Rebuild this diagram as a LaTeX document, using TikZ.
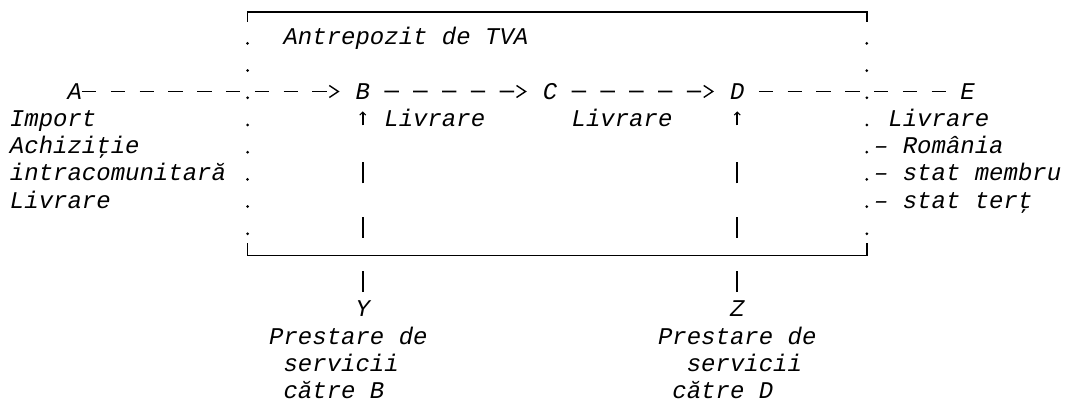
\documentclass[tikz,border=0pt]{standalone}
\usepackage{fontspec}
\usepackage{tikz}
\usetikzlibrary{arrows.meta}
\setmonofont{Liberation Mono}
\newcommand{\schemaFont}[0]{\ttfamily\itshape\fontsize{24}{27.2}\selectfont}

\begin{document}
\begin{tikzpicture}[x=14.4pt, y=-27.2pt, font=\schemaFont]
  \tikzset{every node/.style={inner sep=0pt, outer sep=0pt, anchor=base west},
    flow/.style={line width=1.6pt, dash pattern=on 14.4pt off 14.4pt},
    flowtip/.style={-{Straight Barb[length=9pt,width=12pt,line width=1.4pt]}, shorten >=16pt},
    service/.style={line width=1.6pt, shorten <=9pt, shorten >=12pt,
      dash pattern=on 21pt off 33.4pt on 21pt off 33.4pt on 21pt off 37pt on 30pt,
      -{Straight Barb[length=3pt,width=6pt,line width=1pt]}},
    rim/.style={line width=1.4pt}}
  \useasboundingbox (-0.694,-0.404) rectangle (73.264,14.301);
  \draw[rim] (16.5,0.40) -- (16.5,0.03) -- (59.5,0.03) -- (59.5,0.40);
  \draw[rim] (16.5,8.53) -- (16.5,8.99) -- (59.5,8.99) -- (59.5,8.53);
  \foreach \r in {1,...,8}
    {\fill (16.5,\r+0.19) circle (1.5pt); \fill (59.5,\r+0.19) circle (1.5pt);}

  \node (wh) at (19,1.25) {Antrepozit de TVA};
  \node (a) at (4,3.25) {A};
  \node (b) at (24,3.25) {B};
  \node (c) at (37,3.25) {C};
  \node (d) at (50,3.25) {D};
  \node (e) at (66,3.25) {E};
  \node (src) at (0,7.25) [align=left] {Import\\Achiziţie\\intracomunitară\\Livrare};
  \node (lb) at (26,4.25) {Livrare};
  \node (lc) at (39,4.25) {Livrare};
  \node (le) at (61,4.25) {Livrare};
  \node (dest) at (60,7.25) [align=left] {– România\\– stat membru\\– stat terţ};
  \node (y) at (24,11.25) {Y};
  \node (z) at (50,11.25) {Z};
  \node (py) at (18,14.25) [align=left] {Prestare de\\~servicii\\~către B};
  \node (pz) at (45,14.25) [align=left] {Prestare de\\~~servicii\\~către D};

  \draw[flow, flowtip] (a.east) -- (b.west);
  \draw[flow, flowtip, shorten <=14.4pt] (b.east) -- (c.west);
  \draw[flow, flowtip, shorten <=14.4pt] (c.east) -- (d.west);
  \draw[flow, shorten <=14.4pt, shorten >=14.4pt] (d.east) -- (e.west);
  \draw[service] (y.north) -- (b.south);
  \draw[service] (z.north) -- (d.south);
\end{tikzpicture}
\end{document}
